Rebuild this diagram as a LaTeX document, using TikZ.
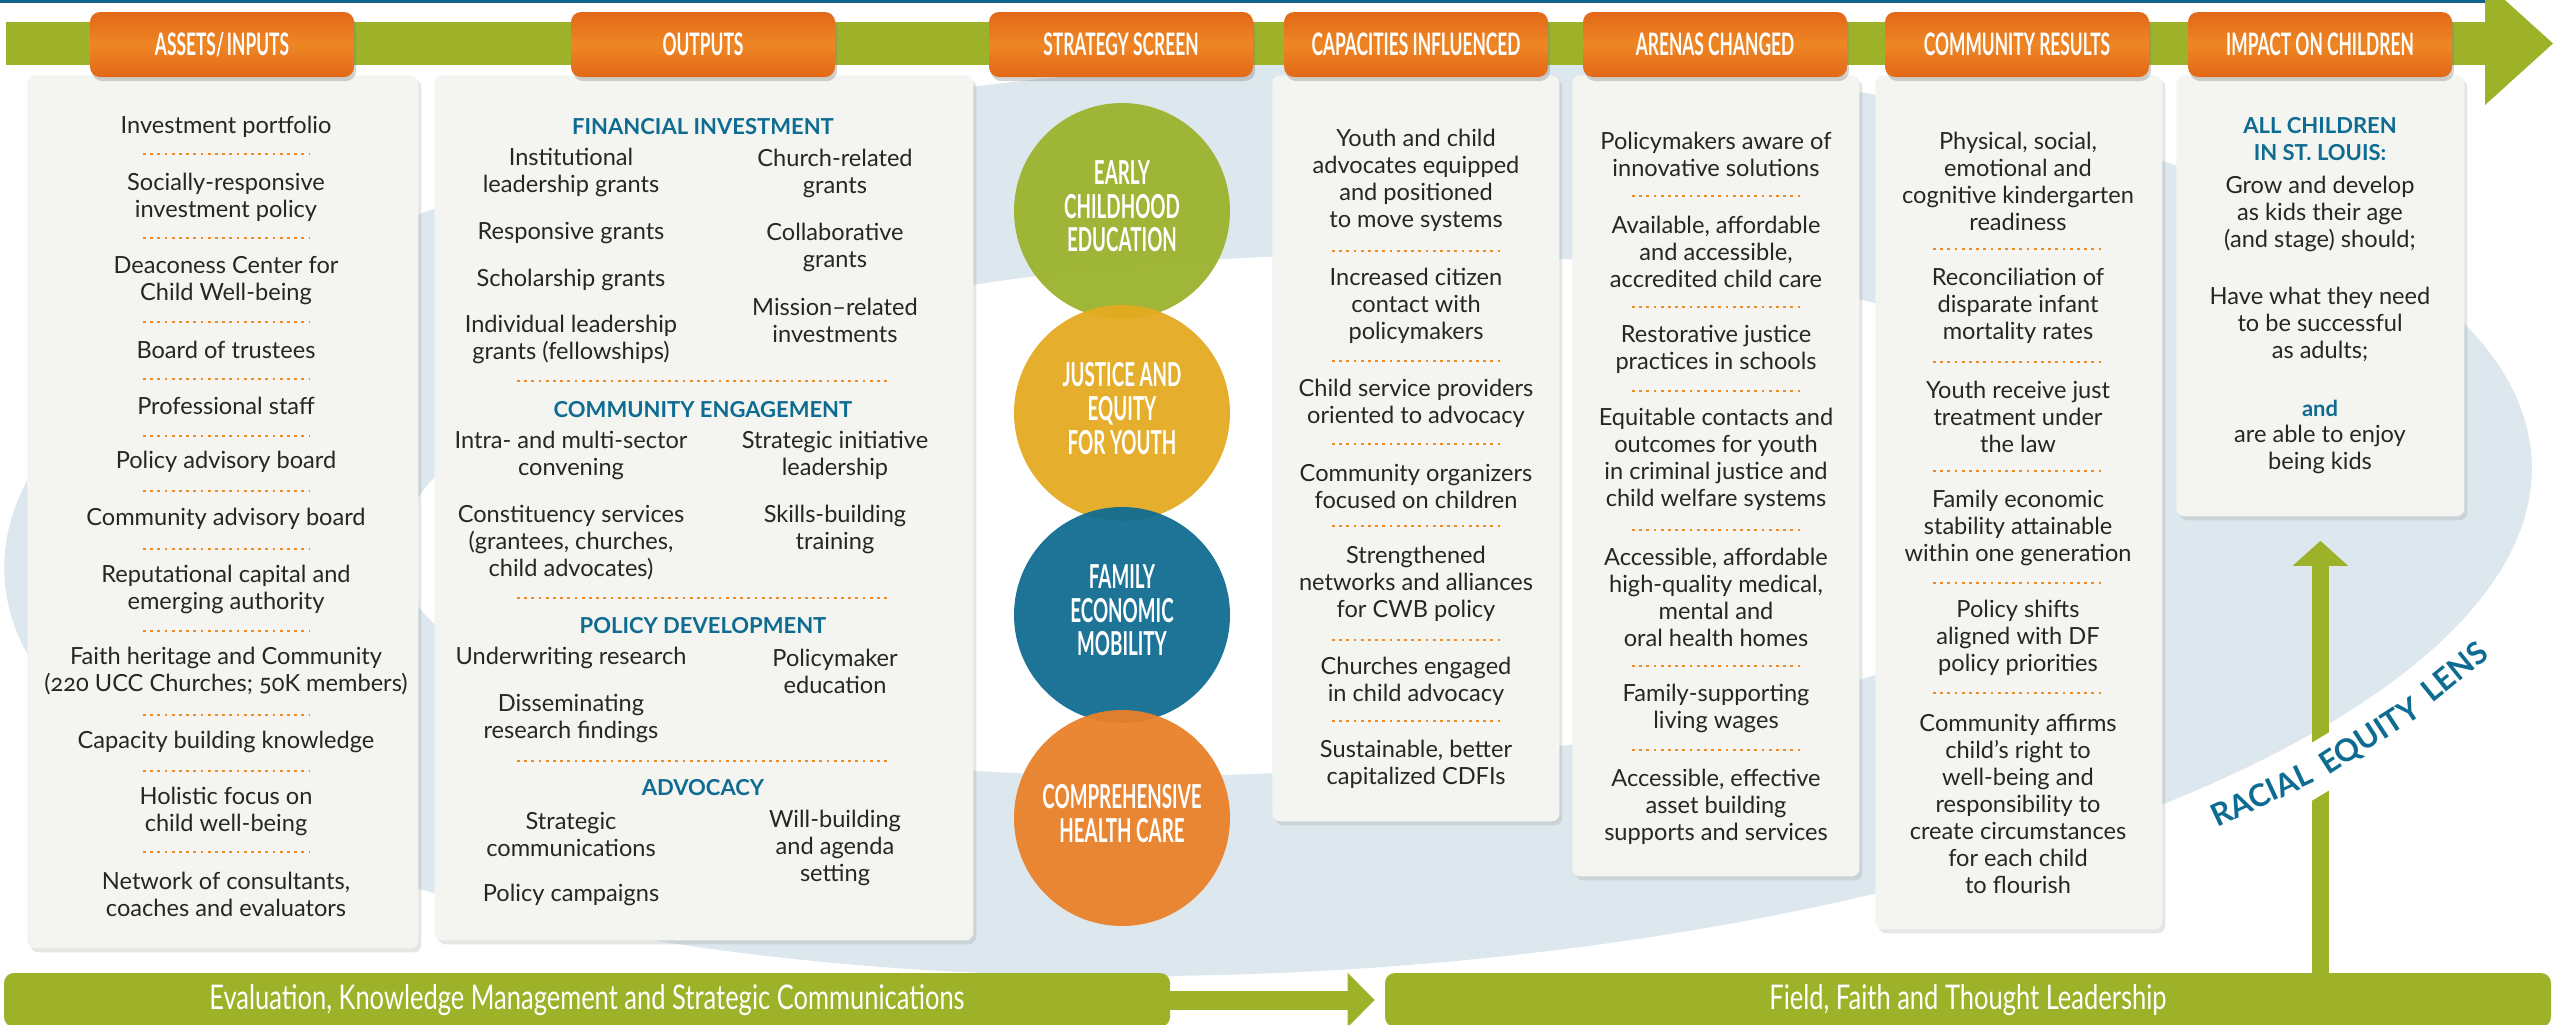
\documentclass[tikz,border=0pt]{standalone}
\usepackage{fontspec}
\setmainfont{Lato}[Numbers=OldStyle]
\usepackage{graphicx}
\usetikzlibrary{shadows,arrows.meta}
\definecolor{grn}{RGB}{157,178,40}
\definecolor{orgd}{RGB}{226,104,24}
\definecolor{orgl}{RGB}{238,134,36}
\definecolor{panelc}{RGB}{244,245,240}
\definecolor{bgb}{RGB}{221,232,238}
\definecolor{hblue}{RGB}{14,107,145}
\definecolor{txt}{RGB}{38,38,38}
\definecolor{dotc}{RGB}{240,140,40}
\definecolor{cgreen}{RGB}{155,178,45}
\definecolor{cyellow}{RGB}{228,170,32}
\definecolor{cblue}{RGB}{15,108,145}
\definecolor{corange}{RGB}{233,128,40}
\definecolor{topline}{RGB}{18,100,140}
\newcommand{\hdrtext}[1]{\scalebox{0.56}[1]{\fontsize{15.5}{16}\selectfont\bfseries #1}}
\newcommand{\circtext}[1]{\scalebox{0.57}[1]{\fontsize{16.5}{16.3}\selectfont\bfseries\begin{tabular}{@{}c@{}}#1\end{tabular}}}
\newcommand{\bartext}[1]{\scalebox{0.75}[1]{\fontsize{17}{18}\selectfont #1}}
\begin{document}
\begin{tikzpicture}[x=0.5pt,y=-0.5pt,
  hdr/.style={rounded corners=5pt, top color=orgd, bottom color=orgd, middle color=orgl,
    minimum width=132pt, minimum height=32.5pt, inner sep=0pt, text=white,
    drop shadow={shadow xshift=1pt,shadow yshift=-2pt,opacity=.35}},
  pan/.style={fill=panelc, rounded corners=4pt, inner sep=0pt, anchor=north west,
    drop shadow={shadow xshift=1.5pt,shadow yshift=-2pt,opacity=.2}},
  body/.style={align=center, text=txt, font=\fontsize{11.8}{13.5}\selectfont, inner sep=0pt},
  bhead/.style={align=center, text=hblue, font=\fontsize{11}{13.5}\selectfont\bfseries, inner sep=0pt},
  lens/.style={text=hblue, font=\fontsize{15.5}{16}\selectfont\bfseries, inner sep=0pt, anchor=base west},
  sep/.style={dotc, line width=1.2pt, dash pattern=on 1.4pt off 2.2pt},
  circ/.style={circle, minimum size=108pt, inner sep=0pt, text=white, fill opacity=0.94, text opacity=1},
  bar/.style={fill=grn, rounded corners=5pt, minimum width=583pt, minimum height=27pt, inner sep=0pt},
  bartxt/.style={text=white, inner sep=0pt}]
\useasboundingbox (0,0) rectangle (2553,1024);
\clip (0,0) rectangle (2553,1024);
% background lens
\fill[bgb, rotate around={2.6:(1268,518)}] (1268,518) ellipse [x radius=632.5pt, y radius=227.5pt];
\fill[white, rotate around={2.7:(1270,515)}] (1270,515) ellipse [x radius=436pt, y radius=129pt];
% top band
\fill[topline] (0,0) rectangle (2490,3);
\fill[grn] (6,22) rectangle (2486,65);
\fill[grn] (2485,-18) -- (2553,43.5) -- (2485,105) -- cycle;
% bottom bars
\node[bar] (bar1) at (587,1000) {};
\node[bar] (bar2) at (1968,1000) {};
\node[bartxt] (bt1) at (587,1000) {\bartext{Evaluation, Knowledge Management and Strategic Communications}};
\node[bartxt] (bt2) at (1968,1000) {\bartext{Field, Faith and Thought Leadership}};
\draw[grn, line width=9.5pt, -{Triangle[width=26.5pt,length=13.5pt]}, shorten >=5pt] (bar1.east) -- (bar2.west);
% panels
\node[pan, minimum width=195.5pt, minimum height=436.5pt] (assets) at (27,75) {};
\node[pan, minimum width=269.5pt, minimum height=432.5pt] (outputs) at (434,75) {};
\node[pan, minimum width=143.5pt, minimum height=373pt] (capac) at (1272,75) {};
\node[pan, minimum width=143.5pt, minimum height=400.5pt] (arenas) at (1572,75) {};
\node[pan, minimum width=143.5pt, minimum height=427pt] (commun) at (1875,75) {};
\node[pan, minimum width=144pt, minimum height=220.5pt] (impact) at (2176,75) {};
% vertical arrow
\draw[grn, line width=8.5pt, -{Triangle[width=27pt,length=12.5pt]}] (bar2.north -| impact.south) -- ([yshift=-12pt]impact.south);
\fill[white] (2308,745) -- (2333,730) -- (2333,788) -- (2308,803) -- cycle;
% circles
\node[circ, fill=cgreen] (c1) at (1122,211) {\circtext{EARLY\\CHILDHOOD\\EDUCATION}};
\node[circ, fill=cyellow] (c2) at (1122,413) {\circtext{JUSTICE AND\\EQUITY\\FOR YOUTH}};
\node[circ, fill=cblue] (c3) at (1122,615) {\circtext{FAMILY\\ECONOMIC\\MOBILITY}};
\node[circ, fill=corange] (c4) at (1122,818) {\circtext{COMPREHENSIVE\\HEALTH CARE}};
% headers
\node[hdr] (h1) at (222,44.5) {\hdrtext{ASSETS/\,INPUTS}};
\node[hdr] (h2) at (703,44.5) {\hdrtext{OUTPUTS}};
\node[hdr] (h3) at (1121,44.5) {\hdrtext{STRATEGY SCREEN}};
\node[hdr] (h4) at (1416,44.5) {\hdrtext{CAPACITIES INFLUENCED}};
\node[hdr] (h5) at (1715,44.5) {\hdrtext{ARENAS CHANGED}};
\node[hdr] (h6) at (2017,44.5) {\hdrtext{COMMUNITY RESULTS}};
\node[hdr] (h7) at (2320,44.5) {\hdrtext{IMPACT ON CHILDREN}};
% assets
\node[body] (a1) at (226,127) {Investment portfolio};
\node[body] (a2) at (226,197.5) {Socially-responsive\\investment policy};
\node[body] (a3) at (226,280.5) {Deaconess Center for\\Child Well-being};
\node[body] (a4) at (226,350) {Board of trustees};
\node[body] (a5) at (226,406) {Professional staff};
\node[body] (a6) at (226,462) {Policy advisory board};
\node[body] (a7) at (226,519) {Community advisory board};
\node[body] (a8) at (226,589) {Reputational capital and\\emerging authority};
\node[body] (a9) at (226,671.5) {Faith heritage and Community\\(220 UCC Churches; 50K members)};
\node[body] (a10) at (226,742) {Capacity building knowledge};
\node[body] (a11) at (226,811.5) {Holistic focus on\\child well-being};
\node[body] (a12) at (226,894) {Network of consultants,\\coaches and evaluators};
\foreach \yy in {154,238,322,379,436,491,549,631,715,771,852} \draw[sep] (143,\yy) -- (310,\yy);
% outputs
\node[bhead] (oh1) at (703,127) {FINANCIAL INVESTMENT};
\node[body] (o1) at (571,172.5) {Institutional\\leadership grants};
\node[body] (o2) at (571,233) {Responsive grants};
\node[body] (o3) at (571,280) {Scholarship grants};
\node[body] (o4) at (571,339) {Individual leadership\\grants (fellowships)};
\node[body] (o5) at (835,173) {Church-related\\grants};
\node[body] (o6) at (835,247) {Collaborative\\grants};
\node[body] (o7) at (835,320.5) {Mission--related\\investments};
\node[bhead] (oh2) at (703,410) {COMMUNITY ENGAGEMENT};
\node[body] (o8) at (571,455.5) {Intra- and multi-sector\\convening};
\node[body] (o9) at (571,543) {Constituency services\\(grantees, churches,\\child advocates)};
\node[body] (o10) at (835,455.5) {Strategic initiative\\leadership};
\node[body] (o11) at (835,529.5) {Skills-building\\training};
\node[bhead] (oh3) at (703,626) {POLICY DEVELOPMENT};
\node[body] (o12) at (571,658) {Underwriting research};
\node[body] (o13) at (571,718) {Disseminating\\research findings};
\node[body] (o14) at (835,671.5) {Policymaker\\education};
\node[bhead] (oh4) at (703,788) {ADVOCACY};
\node[body] (o15) at (571,834.5) {Strategic\\communications};
\node[body] (o16) at (571,895) {Policy campaigns};
\node[body] (o17) at (835,848) {Will-building\\and agenda\\setting};
\foreach \yy in {381,598,761} \draw[sep] (517,\yy) -- (891,\yy);
% capacities
\node[body] (p1) at (1416,180.75) {Youth and child\\advocates equipped\\and positioned\\to move systems};
\node[body] (p2) at (1416,306) {Increased citizen\\contact with\\policymakers};
\node[body] (p3) at (1416,403) {Child service providers\\oriented to advocacy};
\node[body] (p4) at (1416,486.5) {Community organizers\\focused on children};
\node[body] (p5) at (1416,584) {Strengthened\\networks and alliances\\for CWB policy};
\node[body] (p6) at (1416,681) {Churches engaged\\in child advocacy};
\node[body] (p7) at (1416,764) {Sustainable, better\\capitalized CDFIs};
\foreach \yy in {251,361,444,526,640,721} \draw[sep] (1332,\yy) -- (1500,\yy);
% arenas
\node[body] (r1) at (1716,154) {Policymakers aware of\\innovative solutions};
\node[body] (r2) at (1716,252) {Available, affordable\\and accessible,\\accredited child care};
\node[body] (r3) at (1716,349) {Restorative justice\\practices in schools};
\node[body] (r4) at (1716,459) {Equitable contacts and\\outcomes for youth\\in criminal justice and\\child welfare systems};
\node[body] (r5) at (1716,597) {Accessible, affordable\\high-quality medical,\\mental and\\oral health homes};
\node[body] (r6) at (1716,708) {Family-supporting\\living wages};
\node[body] (r7) at (1716,807) {Accessible, effective\\asset building\\supports and services};
\foreach \yy in {196,307,391,530,666,750} \draw[sep] (1632,\yy) -- (1800,\yy);
% community
\node[body] (m1) at (2018,181.5) {Physical, social,\\emotional and\\cognitive kindergarten\\readiness};
\node[body] (m2) at (2018,306) {Reconciliation of\\disparate infant\\mortality rates};
\node[body] (m3) at (2018,417) {Youth receive just\\treatment under\\the law};
\node[body] (m4) at (2018,528) {Family economic\\stability attainable\\within one generation};
\node[body] (m5) at (2018,638) {Policy shifts\\aligned with DF\\policy priorities};
\node[body] (m6) at (2018,804) {Community affirms\\child’s right to\\well-being and\\responsibility to\\create circumstances\\for each child\\to flourish};
\foreach \yy in {249,362,471,583,693} \draw[sep] (1933,\yy) -- (2102,\yy);
% impact
\node[bhead] (i1) at (2320,139.5) {ALL CHILDREN\\IN ST. LOUIS:};
\node[body] (i2) at (2320,213.7) {Grow and develop\\as kids their age\\(and stage) should;};
\node[body] (i3) at (2320,324) {Have what they need\\to be successful\\as adults;};
\node[bhead] (i4) at (2320,408) {and};
\node[body] (i5) at (2320,449.5) {are able to enjoy\\being kids};
% racial equity lens
\node[lens, rotate=25] (l1) at (2217,828) {RACIAL};
\node[lens, rotate=33] (l2) at (2328,776) {EQUITY};
\node[lens, rotate=39] (l3) at (2432,704) {LENS};
\end{tikzpicture}
\end{document}
